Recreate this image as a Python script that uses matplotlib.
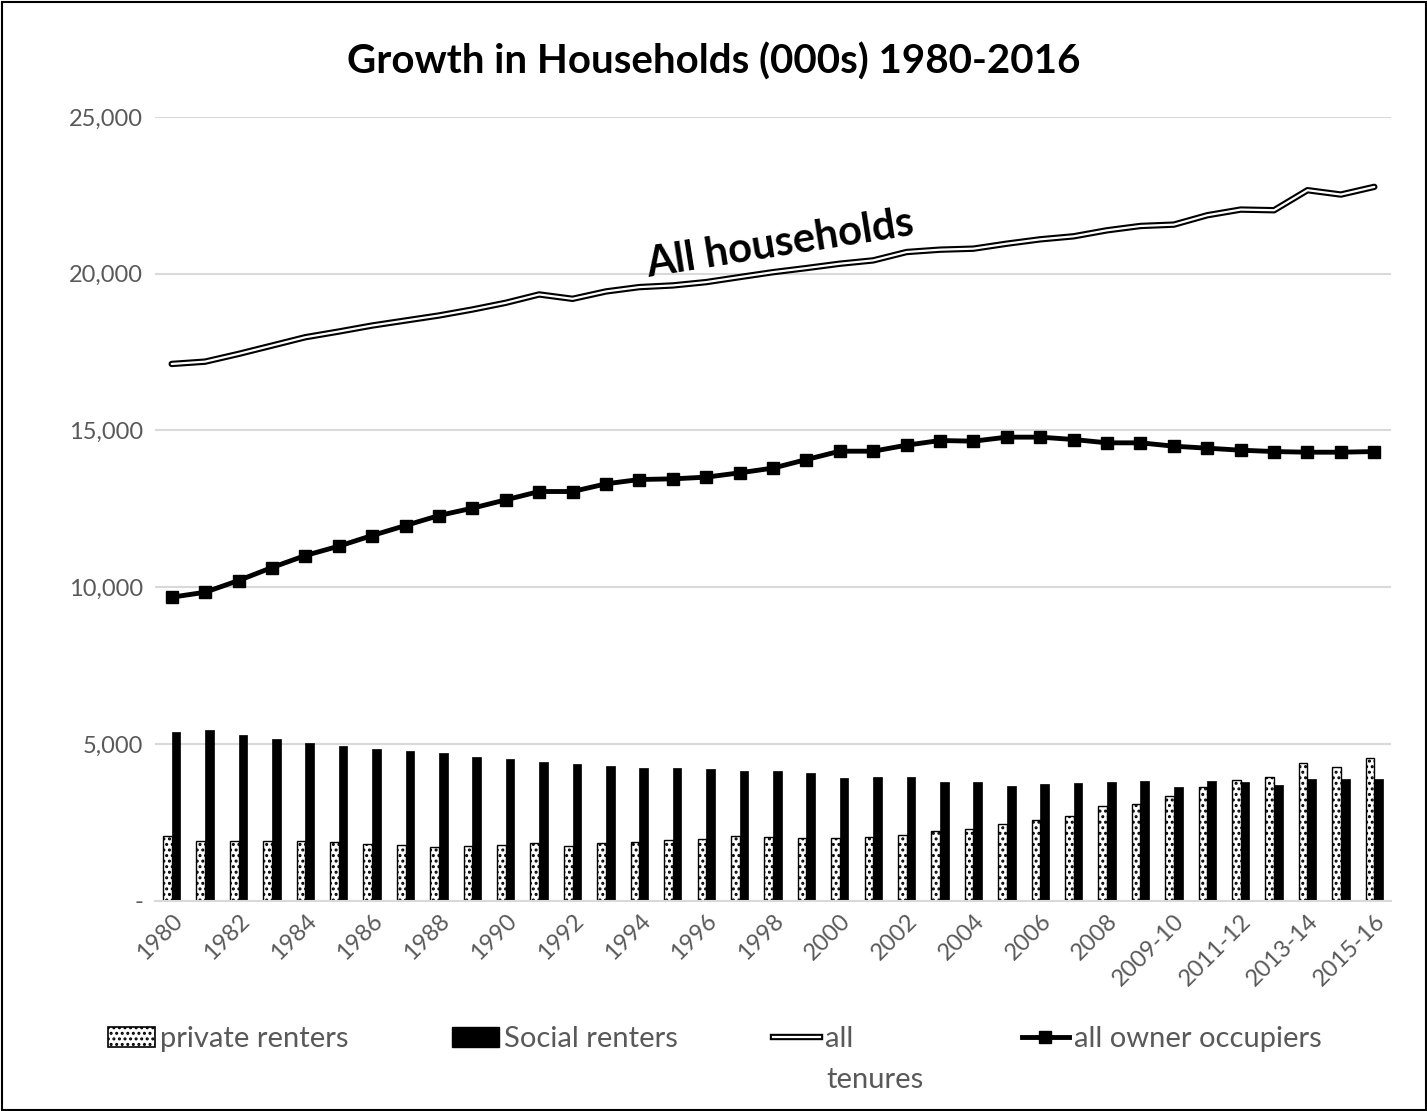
import matplotlib
matplotlib.use("Agg")
import matplotlib.pyplot as plt
import matplotlib.patheffects as pe
from matplotlib.patches import Rectangle, Patch
from matplotlib.lines import Line2D
import numpy as np

plt.rcParams['font.family'] = ['Lato', 'DejaVu Sans']
plt.rcParams['hatch.linewidth'] = 1.4

categories = [str(y) for y in range(1980, 2009)] + [
    "2008-09", "2009-10", "2010-11", "2011-12", "2012-13",
    "2013-14", "2014-15", "2015-16"]

private_renters = [2058, 1918, 1918, 1918, 1918, 1886, 1812, 1770, 1707, 1749,
                   1780, 1854, 1739, 1835, 1877, 1950, 1982, 2078, 2046, 2014,
                   2014, 2046, 2100, 2228, 2292, 2442, 2580, 2686, 3005, 3069,
                   3347, 3625, 3849, 3955, 4380, 4265, 4553]
social_renters = [5371, 5435, 5297, 5160, 5020, 4946, 4840, 4764, 4700, 4584,
                  4520, 4425, 4348, 4306, 4232, 4232, 4200, 4136, 4136, 4061,
                  3913, 3955, 3955, 3785, 3785, 3667, 3709, 3753, 3785, 3817,
                  3635, 3817, 3785, 3677, 3881, 3881, 3881]
all_tenures = [17122, 17196, 17442, 17708, 17975, 18156, 18348, 18508, 18668, 18859,
               19073, 19339, 19200, 19435, 19574, 19627, 19733, 19893, 20050, 20181,
               20320, 20426, 20693, 20768, 20800, 20959, 21098, 21194, 21386, 21524,
               21567, 21866, 22047, 22026, 22665, 22526, 22772]
owner_occupiers = [9681, 9840, 10213, 10628, 11011, 11309, 11649, 11968, 12287, 12521,
                   12787, 13053, 13053, 13298, 13436, 13457, 13511, 13649, 13800, 14073,
                   14339, 14339, 14531, 14680, 14659, 14787, 14787, 14712, 14606, 14606,
                   14499, 14435, 14371, 14328, 14307, 14307, 14328]
y_ticks = [0, 5000, 10000, 15000, 20000, 25000]
y_tick_labels = ["-", "5,000", "10,000", "15,000", "20,000", "25,000"]

title = "Growth in Households (000s) 1980-2016"
annotation = "All households"

GRAY = "#595959"
W, H = 1427, 1111
fig = plt.figure(figsize=(W / 100, H / 100), dpi=100)
ax = fig.add_axes([155 / W, 1 - 900.7 / H, (1391 - 155) / W, (900.7 - 117) / H])

x = np.arange(len(categories))
bw = 0.26
ax.bar(x - bw / 2, private_renters, width=bw, facecolor="white", edgecolor="black",
       hatch="...", linewidth=1.0, zorder=2)
ax.bar(x + bw / 2, social_renters, width=bw, facecolor="black", edgecolor="black",
       linewidth=0.5, zorder=2)

ax.plot(x, all_tenures, color="white", lw=1.6, zorder=4,
        solid_joinstyle="round", solid_capstyle="round",
        path_effects=[pe.Stroke(linewidth=4.6, foreground="black",
                                capstyle="round", joinstyle="round"),
                      pe.Normal()])
ax.plot(x, owner_occupiers, color="black", lw=3.5, marker="s", markersize=8.5,
        zorder=5)

ax.set_xlim(-0.5, len(categories) - 0.5)
ax.set_ylim(0, 25000)
ax.set_yticks(y_ticks)
ax.set_yticklabels(y_tick_labels)
ax.set_xticks(x[::2])
ax.set_xticklabels(categories[::2], rotation=45, ha="right", rotation_mode="anchor")
ax.tick_params(axis="both", length=0, labelsize=17, labelcolor=GRAY)
ax.tick_params(axis="y", pad=8.5)
ax.tick_params(axis="x", pad=7)
ax.grid(axis="y", color="#d9d9d9", lw=1.5, zorder=0)
ax.set_axisbelow(True)
for s in ["top", "right", "left"]:
    ax.spines[s].set_visible(False)
ax.spines["bottom"].set_color("#d9d9d9")
ax.spines["bottom"].set_linewidth(1.5)

fig.text(0.5, 1 - 62 / H, title, ha="center", va="center", fontsize=29,
         fontweight="bold", color="black")
ax.text(18.2, 20962, annotation, ha="center", va="center", fontsize=30,
        fontweight="bold", rotation=9, rotation_mode="anchor", color="black", zorder=6)

# Legends (one entry each, placed as in the reference)
LEG_FS = 21
h_priv = Patch(facecolor="white", edgecolor="black", hatch="...", linewidth=1.2)
h_soc = Patch(facecolor="black", edgecolor="black")
h_all = Line2D([], [], color="white", lw=1.6,
               path_effects=[pe.Stroke(linewidth=4.6, foreground="black"), pe.Normal()])
h_own = Line2D([], [], color="black", lw=3.5, marker="s", markersize=8.5)
entries = [
    (h_priv, "private renters", 108),
    (h_soc, "Social renters", 452),
    (h_all, "all", 773),
    (h_own, "all owner occupiers", 1022),
]
for h, lab, px in entries:
    fig.legend([h], [lab], loc="center left",
               bbox_to_anchor=(px / W, 1 - 1039 / H), frameon=False,
               fontsize=LEG_FS, handlelength=1.6, handleheight=0.7,
               handletextpad=0.2, borderpad=0, borderaxespad=0,
               labelcolor=GRAY)
fig.text(826 / W, 1 - 1080 / H, "tenures", ha="left", va="center",
         fontsize=LEG_FS, color=GRAY)

fig.patches.append(Rectangle((1.5 / W, 1.5 / H), (W - 3) / W, (H - 3) / H,
                             transform=fig.transFigure, fill=False,
                             edgecolor="black", lw=1.5))

fig.savefig("out.png", dpi=100)
